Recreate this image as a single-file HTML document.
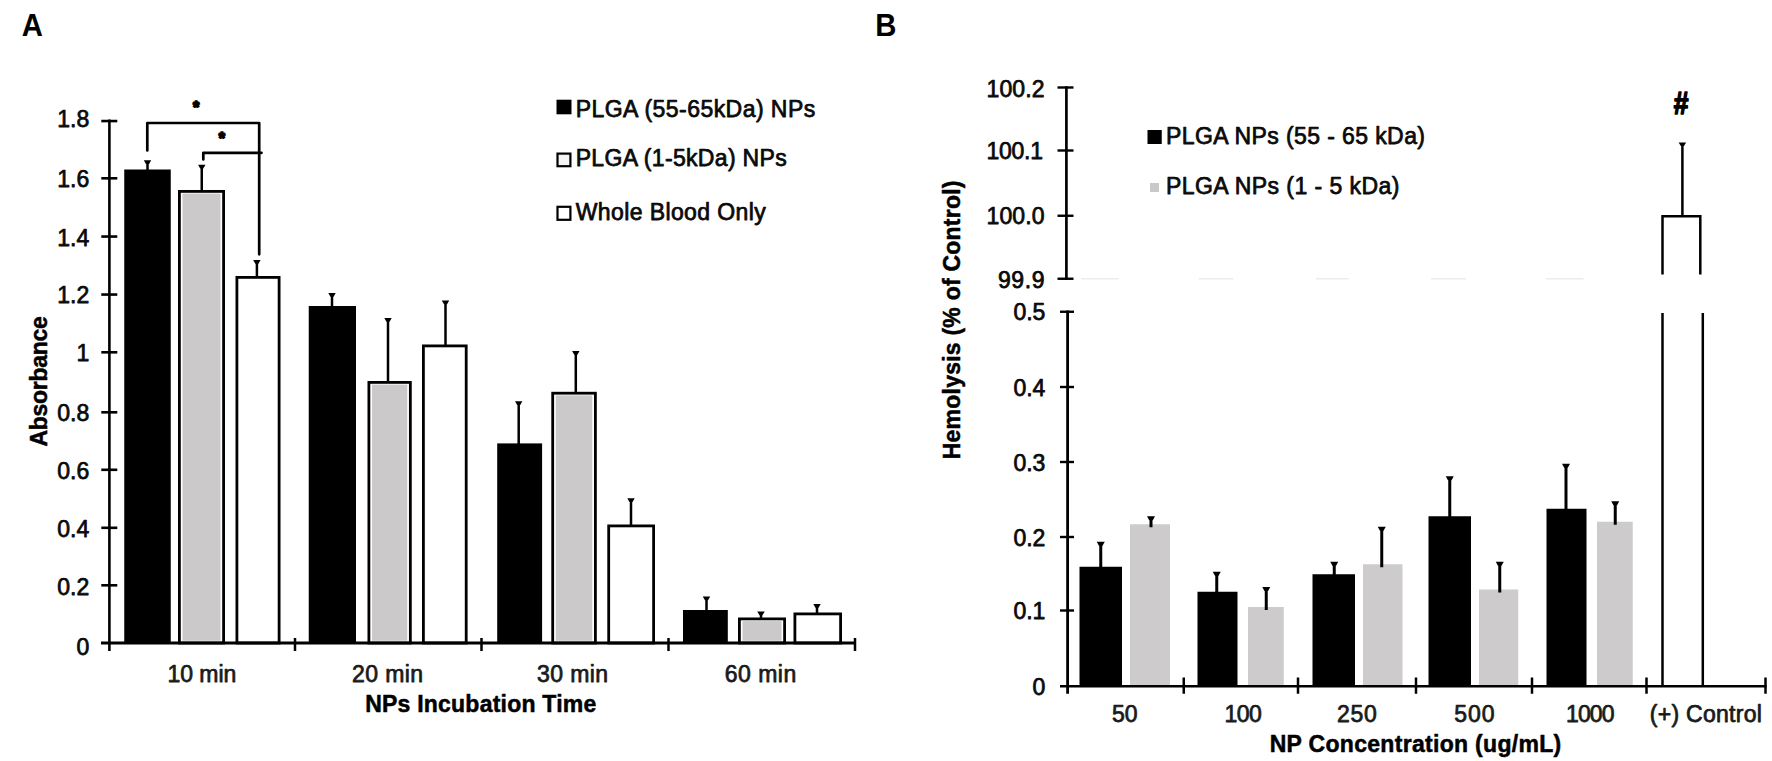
<!DOCTYPE html>
<html lang="en">
<head>
<meta charset="utf-8">
<title>Figure: Absorbance and Hemolysis</title>
<style>
html,body{margin:0;padding:0;background:#fff;}
body{width:1772px;height:761px;overflow:hidden;}
svg{display:block;font-family:'Liberation Sans', Arial, Helvetica, sans-serif;}
svg text{font-family:'Liberation Sans', Arial, Helvetica, sans-serif;}
</style>
</head>
<body>
<svg width="1772" height="761" viewBox="0 0 1772 761">
<rect x="0" y="0" width="1772" height="761" fill="#ffffff"/>
<text transform="translate(21.8 36) scale(0.96 1)" x="0" y="0" font-size="30.5" font-weight="700" fill="#000">A</text>
<text transform="translate(875.2 36) scale(0.96 1)" x="0" y="0" font-size="30.5" font-weight="700" fill="#000">B</text>
<line x1="147.50" y1="161.20" x2="147.50" y2="170.50" stroke="#000" stroke-width="2.5"/>
<path d="M143.80 160.20 H151.20 L149.05 164.00 H145.95 Z" fill="#000"/>
<rect x="124.25" y="169.50" width="46.50" height="473.50" fill="#000"/>
<line x1="201.75" y1="165.70" x2="201.75" y2="191.00" stroke="#000" stroke-width="2.5"/>
<path d="M198.05 164.70 H205.45 L203.30 168.50 H200.20 Z" fill="#000"/>
<rect x="179.40" y="191.40" width="44.20" height="451.60" fill="#fff" stroke="#000" stroke-width="2.8"/>
<rect x="182.50" y="193.60" width="38.00" height="447.20" fill="#cbc9c9"/>
<line x1="256.90" y1="260.95" x2="256.90" y2="277.00" stroke="#000" stroke-width="2.5"/>
<path d="M253.20 259.95 H260.60 L258.45 263.75 H255.35 Z" fill="#000"/>
<rect x="236.90" y="277.40" width="42.20" height="365.60" fill="#fff" stroke="#000" stroke-width="2.8"/>
<line x1="332.00" y1="293.95" x2="332.00" y2="307.00" stroke="#000" stroke-width="2.5"/>
<path d="M328.30 292.95 H335.70 L333.55 296.75 H330.45 Z" fill="#000"/>
<rect x="308.75" y="306.00" width="47.25" height="337.00" fill="#000"/>
<line x1="388.00" y1="318.95" x2="388.00" y2="382.00" stroke="#000" stroke-width="2.5"/>
<path d="M384.30 317.95 H391.70 L389.55 321.75 H386.45 Z" fill="#000"/>
<rect x="368.90" y="382.40" width="41.45" height="260.60" fill="#fff" stroke="#000" stroke-width="2.8"/>
<rect x="372.00" y="384.60" width="35.25" height="256.20" fill="#cbc9c9"/>
<line x1="445.50" y1="301.50" x2="445.50" y2="345.50" stroke="#000" stroke-width="2.5"/>
<path d="M441.80 300.50 H449.20 L447.05 304.30 H443.95 Z" fill="#000"/>
<rect x="423.40" y="345.90" width="42.80" height="297.10" fill="#fff" stroke="#000" stroke-width="2.8"/>
<line x1="518.70" y1="402.20" x2="518.70" y2="444.40" stroke="#000" stroke-width="2.5"/>
<path d="M515.00 401.20 H522.40 L520.25 405.00 H517.15 Z" fill="#000"/>
<rect x="497.20" y="443.40" width="44.90" height="199.60" fill="#000"/>
<line x1="575.80" y1="352.00" x2="575.80" y2="392.80" stroke="#000" stroke-width="2.5"/>
<path d="M572.10 351.00 H579.50 L577.35 354.80 H574.25 Z" fill="#000"/>
<rect x="552.70" y="393.20" width="42.70" height="249.80" fill="#fff" stroke="#000" stroke-width="2.8"/>
<rect x="555.80" y="395.40" width="36.50" height="245.40" fill="#cbc9c9"/>
<line x1="631.00" y1="499.20" x2="631.00" y2="525.50" stroke="#000" stroke-width="2.5"/>
<path d="M627.30 498.20 H634.70 L632.55 502.00 H629.45 Z" fill="#000"/>
<rect x="608.70" y="525.90" width="44.90" height="117.10" fill="#fff" stroke="#000" stroke-width="2.8"/>
<line x1="706.50" y1="597.50" x2="706.50" y2="611.00" stroke="#000" stroke-width="2.5"/>
<path d="M702.80 596.50 H710.20 L708.05 600.30 H704.95 Z" fill="#000"/>
<rect x="683.00" y="610.00" width="44.80" height="33.00" fill="#000"/>
<line x1="761.00" y1="612.50" x2="761.00" y2="618.50" stroke="#000" stroke-width="2.5"/>
<path d="M757.30 611.50 H764.70 L762.55 615.30 H759.45 Z" fill="#000"/>
<rect x="739.40" y="618.90" width="45.20" height="24.10" fill="#fff" stroke="#000" stroke-width="2.8"/>
<rect x="742.50" y="621.10" width="39.00" height="19.70" fill="#cbc9c9"/>
<line x1="817.00" y1="605.00" x2="817.00" y2="613.50" stroke="#000" stroke-width="2.5"/>
<path d="M813.30 604.00 H820.70 L818.55 607.80 H815.45 Z" fill="#000"/>
<rect x="794.90" y="613.90" width="45.70" height="29.10" fill="#fff" stroke="#000" stroke-width="2.8"/>
<line x1="109.40" y1="119.50" x2="109.40" y2="651.00" stroke="#000" stroke-width="2.6"/>
<line x1="101.00" y1="643.00" x2="856.00" y2="643.00" stroke="#000" stroke-width="2.8"/>
<line x1="101.30" y1="121.05" x2="117.30" y2="121.05" stroke="#000" stroke-width="2.6"/>
<line x1="101.30" y1="178.30" x2="117.30" y2="178.30" stroke="#000" stroke-width="2.6"/>
<line x1="101.30" y1="236.55" x2="117.30" y2="236.55" stroke="#000" stroke-width="2.6"/>
<line x1="101.30" y1="294.55" x2="117.30" y2="294.55" stroke="#000" stroke-width="2.6"/>
<line x1="101.30" y1="352.30" x2="117.30" y2="352.30" stroke="#000" stroke-width="2.6"/>
<line x1="101.30" y1="412.30" x2="117.30" y2="412.30" stroke="#000" stroke-width="2.6"/>
<line x1="101.30" y1="469.80" x2="117.30" y2="469.80" stroke="#000" stroke-width="2.6"/>
<line x1="101.30" y1="527.80" x2="117.30" y2="527.80" stroke="#000" stroke-width="2.6"/>
<line x1="101.30" y1="585.30" x2="117.30" y2="585.30" stroke="#000" stroke-width="2.6"/>
<line x1="295.00" y1="638.00" x2="295.00" y2="651.00" stroke="#000" stroke-width="2.5"/>
<line x1="481.50" y1="638.00" x2="481.50" y2="651.00" stroke="#000" stroke-width="2.5"/>
<line x1="668.50" y1="638.00" x2="668.50" y2="651.00" stroke="#000" stroke-width="2.5"/>
<line x1="855.00" y1="638.00" x2="855.00" y2="651.00" stroke="#000" stroke-width="2.5"/>
<text x="89.20" y="127.00" font-size="23" text-anchor="end" fill="#0a0a0a" stroke="#0a0a0a" stroke-width="0.75" stroke-linejoin="round">1.8</text>
<text x="89.20" y="187.00" font-size="23" text-anchor="end" fill="#0a0a0a" stroke="#0a0a0a" stroke-width="0.75" stroke-linejoin="round">1.6</text>
<text x="89.20" y="246.00" font-size="23" text-anchor="end" fill="#0a0a0a" stroke="#0a0a0a" stroke-width="0.75" stroke-linejoin="round">1.4</text>
<text x="89.20" y="302.70" font-size="23" text-anchor="end" fill="#0a0a0a" stroke="#0a0a0a" stroke-width="0.75" stroke-linejoin="round">1.2</text>
<text x="89.20" y="360.70" font-size="23" text-anchor="end" fill="#0a0a0a" stroke="#0a0a0a" stroke-width="0.75" stroke-linejoin="round">1</text>
<text x="89.20" y="421.00" font-size="23" text-anchor="end" fill="#0a0a0a" stroke="#0a0a0a" stroke-width="0.75" stroke-linejoin="round">0.8</text>
<text x="89.20" y="478.70" font-size="23" text-anchor="end" fill="#0a0a0a" stroke="#0a0a0a" stroke-width="0.75" stroke-linejoin="round">0.6</text>
<text x="89.20" y="537.00" font-size="23" text-anchor="end" fill="#0a0a0a" stroke="#0a0a0a" stroke-width="0.75" stroke-linejoin="round">0.4</text>
<text x="89.20" y="594.70" font-size="23" text-anchor="end" fill="#0a0a0a" stroke="#0a0a0a" stroke-width="0.75" stroke-linejoin="round">0.2</text>
<text x="89.20" y="654.60" font-size="23" text-anchor="end" fill="#0a0a0a" stroke="#0a0a0a" stroke-width="0.75" stroke-linejoin="round">0</text>
<text x="167.50" y="681.90" font-size="23" textLength="68.8" lengthAdjust="spacing" fill="#1a1a1a" stroke="#1a1a1a" stroke-width="0.75" stroke-linejoin="round">10 min</text>
<text x="352.00" y="681.90" font-size="23" textLength="71.0" lengthAdjust="spacing" fill="#1a1a1a" stroke="#1a1a1a" stroke-width="0.75" stroke-linejoin="round">20 min</text>
<text x="537.00" y="681.90" font-size="23" textLength="71.0" lengthAdjust="spacing" fill="#1a1a1a" stroke="#1a1a1a" stroke-width="0.75" stroke-linejoin="round">30 min</text>
<text x="724.70" y="681.90" font-size="23" textLength="71.6" lengthAdjust="spacing" fill="#1a1a1a" stroke="#1a1a1a" stroke-width="0.75" stroke-linejoin="round">60 min</text>
<text x="365.20" y="712.30" font-size="23" font-weight="700" textLength="231.0" lengthAdjust="spacing" fill="#000" stroke="#000" stroke-width="0.5" stroke-linejoin="round">NPs Incubation Time</text>
<text x="47.50" y="446.60" font-size="23" font-weight="700" textLength="130.5" lengthAdjust="spacing" transform="rotate(-90 47.50 446.60)" fill="#000" stroke="#000" stroke-width="0.5" stroke-linejoin="round">Absorbance</text>
<rect x="556.50" y="99.70" width="15.00" height="14.60" fill="#000"/>
<rect x="557.50" y="153.60" width="12.90" height="12.60" fill="#f4f4f4" stroke="#000" stroke-width="2.2"/>
<rect x="557.50" y="206.80" width="12.90" height="13.00" fill="#fff" stroke="#000" stroke-width="2.2"/>
<text x="575.70" y="116.80" font-size="23" textLength="239.5" lengthAdjust="spacing" fill="#0a0a0a" stroke="#0a0a0a" stroke-width="0.75" stroke-linejoin="round">PLGA (55-65kDa) NPs</text>
<text x="575.70" y="166.20" font-size="23" textLength="211.0" lengthAdjust="spacing" fill="#0a0a0a" stroke="#0a0a0a" stroke-width="0.75" stroke-linejoin="round">PLGA (1-5kDa) NPs</text>
<text x="575.70" y="219.80" font-size="23" textLength="190.0" lengthAdjust="spacing" fill="#0a0a0a" stroke="#0a0a0a" stroke-width="0.75" stroke-linejoin="round">Whole Blood Only</text>
<path d="M147.3 150.5 V123 H259.2 V254.3" fill="none" stroke="#000" stroke-width="2.7" stroke-linecap="round" stroke-linejoin="round"/>
<path d="M203.3 159.5 V152.8 H261.5" fill="none" stroke="#000" stroke-width="2.7" stroke-linecap="round" stroke-linejoin="round"/>
<text x="196.10" y="113.30" font-size="16" text-anchor="middle" font-weight="700" fill="#000" stroke="#000" stroke-width="1.7" stroke-linejoin="round">*</text>
<text x="221.80" y="143.60" font-size="16" text-anchor="middle" font-weight="700" fill="#000" stroke="#000" stroke-width="1.7" stroke-linejoin="round">*</text>
<rect x="1079.50" y="566.75" width="42.50" height="119.50" fill="#000"/>
<line x1="1100.75" y1="542.75" x2="1100.75" y2="569.75" stroke="#000" stroke-width="3.0"/>
<path d="M1096.75 541.75 H1104.75 L1102.55 545.75 H1098.95 Z" fill="#000"/>
<rect x="1130.00" y="524.25" width="40.00" height="162.00" fill="#cdcbcb"/>
<line x1="1151.00" y1="517.25" x2="1151.00" y2="527.25" stroke="#000" stroke-width="3.0"/>
<path d="M1147.00 516.25 H1155.00 L1152.80 520.25 H1149.20 Z" fill="#000"/>
<rect x="1197.50" y="591.75" width="40.00" height="94.50" fill="#000"/>
<line x1="1216.75" y1="572.75" x2="1216.75" y2="594.75" stroke="#000" stroke-width="3.0"/>
<path d="M1212.75 571.75 H1220.75 L1218.55 575.75 H1214.95 Z" fill="#000"/>
<rect x="1248.00" y="607.00" width="35.75" height="79.25" fill="#cdcbcb"/>
<line x1="1266.25" y1="588.00" x2="1266.25" y2="610.00" stroke="#000" stroke-width="3.0"/>
<path d="M1262.25 587.00 H1270.25 L1268.05 591.00 H1264.45 Z" fill="#000"/>
<rect x="1312.50" y="574.25" width="42.50" height="112.00" fill="#000"/>
<line x1="1334.25" y1="562.75" x2="1334.25" y2="577.25" stroke="#000" stroke-width="3.0"/>
<path d="M1330.25 561.75 H1338.25 L1336.05 565.75 H1332.45 Z" fill="#000"/>
<rect x="1363.00" y="564.25" width="39.50" height="122.00" fill="#cdcbcb"/>
<line x1="1381.75" y1="527.75" x2="1381.75" y2="567.25" stroke="#000" stroke-width="3.0"/>
<path d="M1377.75 526.75 H1385.75 L1383.55 530.75 H1379.95 Z" fill="#000"/>
<rect x="1428.50" y="516.25" width="42.50" height="170.00" fill="#000"/>
<line x1="1449.75" y1="477.25" x2="1449.75" y2="519.25" stroke="#000" stroke-width="3.0"/>
<path d="M1445.75 476.25 H1453.75 L1451.55 480.25 H1447.95 Z" fill="#000"/>
<rect x="1479.00" y="589.50" width="39.25" height="96.75" fill="#cdcbcb"/>
<line x1="1499.75" y1="562.75" x2="1499.75" y2="592.50" stroke="#000" stroke-width="3.0"/>
<path d="M1495.75 561.75 H1503.75 L1501.55 565.75 H1497.95 Z" fill="#000"/>
<rect x="1546.50" y="508.75" width="40.00" height="177.50" fill="#000"/>
<line x1="1566.00" y1="464.75" x2="1566.00" y2="511.75" stroke="#000" stroke-width="3.0"/>
<path d="M1562.00 463.75 H1570.00 L1567.80 467.75 H1564.20 Z" fill="#000"/>
<rect x="1597.00" y="521.75" width="35.75" height="164.50" fill="#cdcbcb"/>
<line x1="1615.25" y1="502.25" x2="1615.25" y2="524.75" stroke="#000" stroke-width="3.0"/>
<path d="M1611.25 501.25 H1619.25 L1617.05 505.25 H1613.45 Z" fill="#000"/>
<line x1="1081.00" y1="278.75" x2="1118.50" y2="278.75" stroke="#ececec" stroke-width="1.5"/>
<line x1="1198.50" y1="278.75" x2="1233.50" y2="278.75" stroke="#ececec" stroke-width="1.5"/>
<line x1="1316.00" y1="278.75" x2="1348.50" y2="278.75" stroke="#ececec" stroke-width="1.5"/>
<line x1="1431.00" y1="278.75" x2="1466.00" y2="278.75" stroke="#ececec" stroke-width="1.5"/>
<line x1="1546.00" y1="278.75" x2="1583.50" y2="278.75" stroke="#ececec" stroke-width="1.5"/>
<line x1="1662.50" y1="313.00" x2="1662.50" y2="686.25" stroke="#000" stroke-width="2.5"/>
<line x1="1702.80" y1="313.00" x2="1702.80" y2="686.25" stroke="#000" stroke-width="2.5"/>
<path d="M1662.5 274.5 V216.2 H1700.3 V274.5" fill="none" stroke="#000" stroke-width="2.5"/>
<line x1="1682.40" y1="143.50" x2="1682.40" y2="216.20" stroke="#000" stroke-width="2.5"/>
<path d="M1678.65 142.50 H1686.15 L1683.95 146.00 H1680.85 Z" fill="#000"/>
<text transform="translate(1681 114) scale(0.84 1)" x="0" y="0" font-size="31.5" text-anchor="middle" font-weight="700" fill="#000" stroke="#000" stroke-width="1.6" stroke-linejoin="round">#</text>
<line x1="1066.40" y1="86.30" x2="1066.40" y2="279.90" stroke="#000" stroke-width="2.7"/>
<line x1="1057.50" y1="87.50" x2="1073.50" y2="87.50" stroke="#000" stroke-width="2.4"/>
<line x1="1057.50" y1="150.50" x2="1073.50" y2="150.50" stroke="#000" stroke-width="2.4"/>
<line x1="1057.50" y1="215.75" x2="1073.50" y2="215.75" stroke="#000" stroke-width="2.4"/>
<line x1="1057.50" y1="278.75" x2="1073.50" y2="278.75" stroke="#000" stroke-width="2.4"/>
<line x1="1067.60" y1="310.50" x2="1067.60" y2="693.75" stroke="#000" stroke-width="2.8"/>
<line x1="1060.00" y1="311.75" x2="1074.00" y2="311.75" stroke="#000" stroke-width="2.4"/>
<line x1="1060.00" y1="387.00" x2="1074.00" y2="387.00" stroke="#000" stroke-width="2.4"/>
<line x1="1060.00" y1="462.00" x2="1074.00" y2="462.00" stroke="#000" stroke-width="2.4"/>
<line x1="1060.00" y1="537.00" x2="1074.00" y2="537.00" stroke="#000" stroke-width="2.4"/>
<line x1="1060.00" y1="610.50" x2="1074.00" y2="610.50" stroke="#000" stroke-width="2.4"/>
<line x1="1060.00" y1="686.25" x2="1766.50" y2="686.25" stroke="#000" stroke-width="2.6"/>
<line x1="1183.75" y1="677.50" x2="1183.75" y2="693.75" stroke="#000" stroke-width="2.5"/>
<line x1="1298.00" y1="677.50" x2="1298.00" y2="693.75" stroke="#000" stroke-width="2.5"/>
<line x1="1416.00" y1="677.50" x2="1416.00" y2="693.75" stroke="#000" stroke-width="2.5"/>
<line x1="1532.00" y1="677.50" x2="1532.00" y2="693.75" stroke="#000" stroke-width="2.5"/>
<line x1="1646.50" y1="677.50" x2="1646.50" y2="693.75" stroke="#000" stroke-width="2.5"/>
<line x1="1765.50" y1="677.50" x2="1765.50" y2="693.75" stroke="#000" stroke-width="2.5"/>
<text x="986.50" y="97.00" font-size="23" textLength="58.0" lengthAdjust="spacing" fill="#0a0a0a" stroke="#0a0a0a" stroke-width="0.75" stroke-linejoin="round">100.2</text>
<text x="986.50" y="159.00" font-size="23" textLength="56.5" lengthAdjust="spacing" fill="#0a0a0a" stroke="#0a0a0a" stroke-width="0.75" stroke-linejoin="round">100.1</text>
<text x="986.50" y="224.25" font-size="23" textLength="58.0" lengthAdjust="spacing" fill="#0a0a0a" stroke="#0a0a0a" stroke-width="0.75" stroke-linejoin="round">100.0</text>
<text x="998.00" y="287.50" font-size="23" textLength="46.5" lengthAdjust="spacing" fill="#0a0a0a" stroke="#0a0a0a" stroke-width="0.75" stroke-linejoin="round">99.9</text>
<text x="1045.40" y="320.00" font-size="23" text-anchor="end" fill="#0a0a0a" stroke="#0a0a0a" stroke-width="0.75" stroke-linejoin="round">0.5</text>
<text x="1045.40" y="396.25" font-size="23" text-anchor="end" fill="#0a0a0a" stroke="#0a0a0a" stroke-width="0.75" stroke-linejoin="round">0.4</text>
<text x="1045.40" y="471.25" font-size="23" text-anchor="end" fill="#0a0a0a" stroke="#0a0a0a" stroke-width="0.75" stroke-linejoin="round">0.3</text>
<text x="1045.40" y="545.50" font-size="23" text-anchor="end" fill="#0a0a0a" stroke="#0a0a0a" stroke-width="0.75" stroke-linejoin="round">0.2</text>
<text x="1045.40" y="618.75" font-size="23" text-anchor="end" fill="#0a0a0a" stroke="#0a0a0a" stroke-width="0.75" stroke-linejoin="round">0.1</text>
<text x="1045.40" y="694.50" font-size="23" text-anchor="end" fill="#0a0a0a" stroke="#0a0a0a" stroke-width="0.75" stroke-linejoin="round">0</text>
<text x="1112.00" y="722.40" font-size="23" textLength="25.5" lengthAdjust="spacing" fill="#1a1a1a" stroke="#1a1a1a" stroke-width="0.75" stroke-linejoin="round">50</text>
<text x="1224.50" y="722.40" font-size="23" textLength="37.2" lengthAdjust="spacing" fill="#1a1a1a" stroke="#1a1a1a" stroke-width="0.75" stroke-linejoin="round">100</text>
<text x="1337.00" y="722.40" font-size="23" textLength="39.8" lengthAdjust="spacing" fill="#1a1a1a" stroke="#1a1a1a" stroke-width="0.75" stroke-linejoin="round">250</text>
<text x="1454.25" y="722.40" font-size="23" textLength="40.2" lengthAdjust="spacing" fill="#1a1a1a" stroke="#1a1a1a" stroke-width="0.75" stroke-linejoin="round">500</text>
<text x="1566.00" y="722.40" font-size="23" textLength="48.5" lengthAdjust="spacing" fill="#1a1a1a" stroke="#1a1a1a" stroke-width="0.75" stroke-linejoin="round">1000</text>
<text x="1649.75" y="722.40" font-size="23" textLength="112.2" lengthAdjust="spacing" fill="#1a1a1a" stroke="#1a1a1a" stroke-width="0.75" stroke-linejoin="round">(+) Control</text>
<text x="1269.70" y="752.20" font-size="23" font-weight="700" textLength="291.5" lengthAdjust="spacing" fill="#000" stroke="#000" stroke-width="0.5" stroke-linejoin="round">NP Concentration (ug/mL)</text>
<text x="959.60" y="459.30" font-size="23" font-weight="700" textLength="278.8" lengthAdjust="spacing" transform="rotate(-90 959.60 459.30)" fill="#000" stroke="#000" stroke-width="0.5" stroke-linejoin="round">Hemolysis (% of Control)</text>
<rect x="1147.50" y="130.00" width="14.25" height="14.00" fill="#000"/>
<rect x="1150.00" y="183.00" width="9.00" height="9.00" fill="#c9c9c9"/>
<text x="1166.00" y="144.25" font-size="23" textLength="259.0" lengthAdjust="spacing" fill="#0a0a0a" stroke="#0a0a0a" stroke-width="0.75" stroke-linejoin="round">PLGA NPs (55 - 65 kDa)</text>
<text x="1166.00" y="193.75" font-size="23" textLength="233.5" lengthAdjust="spacing" fill="#0a0a0a" stroke="#0a0a0a" stroke-width="0.75" stroke-linejoin="round">PLGA NPs (1 - 5 kDa)</text>
</svg>
</body>
</html>
